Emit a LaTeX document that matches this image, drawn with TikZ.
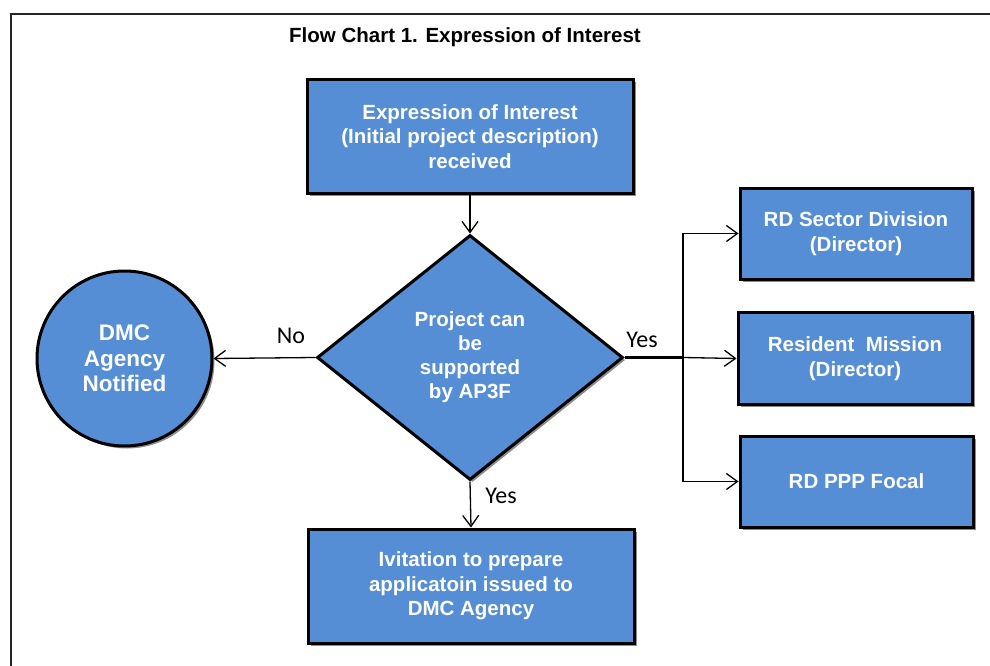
\documentclass[tikz,border=0pt]{standalone}
\usepackage{fontspec}
\setmainfont{Liberation Sans}
\newfontfamily\calib{Carlito}
\usetikzlibrary{shapes.geometric,arrows.meta,shadows}
\definecolor{boxblue}{RGB}{85,142,213}
\tikzset{
  shade/.style={drop shadow={shadow xshift=2.5pt,shadow yshift=-2.5pt,fill=black,opacity=0.45}},
  blockbox/.style={draw=black,line width=3pt,fill=boxblue,shade,text=white,
     font=\fontsize{20.5}{24.5}\selectfont\bfseries,align=center,inner sep=0pt},
  decision/.style={diamond,draw=black,line width=3pt,fill=boxblue,shade,text=white,
     font=\fontsize{20.5}{24}\selectfont\bfseries,align=center,inner sep=0pt,
     minimum width=306pt,minimum height=245pt},
  endcircle/.style={circle,draw=black,line width=3pt,fill=boxblue,shade,text=white,
     font=\fontsize{22.5}{25.5}\selectfont\bfseries,align=center,inner sep=0pt,minimum size=175pt},
  conn/.style={draw=black,line width=1.3pt,-{Straight Barb[length=11pt,width=16pt,line width=1.3pt]}},
  lbl/.style={font=\calib\fontsize{24}{28}\selectfont,text=black,inner sep=0pt},
  ttl/.style={font=\fontsize{20.5}{22}\selectfont\bfseries,text=black,inner sep=0pt}
}
\begin{document}
\begin{tikzpicture}[x=1pt,y=-1pt]
\useasboundingbox (0,0) rectangle (990,666);
\fill[white] (0,0) rectangle (990,666);
% outer frame (cut off at right and bottom)
\draw[line width=1.6pt,black!85] (990,14) -- (11,14) -- (11,666);
\node[ttl] (title) at (465,37) {Flow Chart 1. Expression of Interest};
% nodes
\node[blockbox,minimum width=326pt,minimum height=113pt] (eoi) at (470,136.5)
  {Expression of Interest\\(Initial project description)\\received};
\node[decision] (dec) at (470,357.5) {Project can\\be\\supported\\by AP3F};
\node[endcircle] (dmc) at (124.5,358.5) {DMC\\Agency\\Notified};
\node[blockbox,minimum width=326pt,minimum height=114pt] (inv) at (471,586)
  {Ivitation to prepare\\applicatoin issued to\\DMC Agency};
\node[blockbox,minimum width=232pt,minimum height=91pt] (sec) at (856,233.5)
  {RD Sector Division\\(Director)};
\node[blockbox,minimum width=234pt,minimum height=92pt] (res) at (855,358.5)
  {Resident\ \ Mission\\(Director)};
\node[blockbox,minimum width=233pt,minimum height=91pt] (ppp) at (856.5,481.5)
  {RD PPP Focal};
\coordinate (jn) at (683,357.5);
% connectors
\draw[conn] (eoi.south) -- (dec.north);
\draw[conn] (dec.west) -- (dmc.east);
\draw[conn] (dec.south) -- (inv.north);
\draw[line width=3pt] (dec.east) -- (jn);
\draw[conn] (jn) -- (res.west);
\draw[conn] (jn) |- (sec.west);
\draw[conn] (jn) |- (ppp.west);
% labels
\node[lbl] (no) at (291,336) {No};
\node[lbl] (yes1) at (642,340) {Yes};
\node[lbl] (yes2) at (501,496) {Yes};
\end{tikzpicture}
\end{document}
